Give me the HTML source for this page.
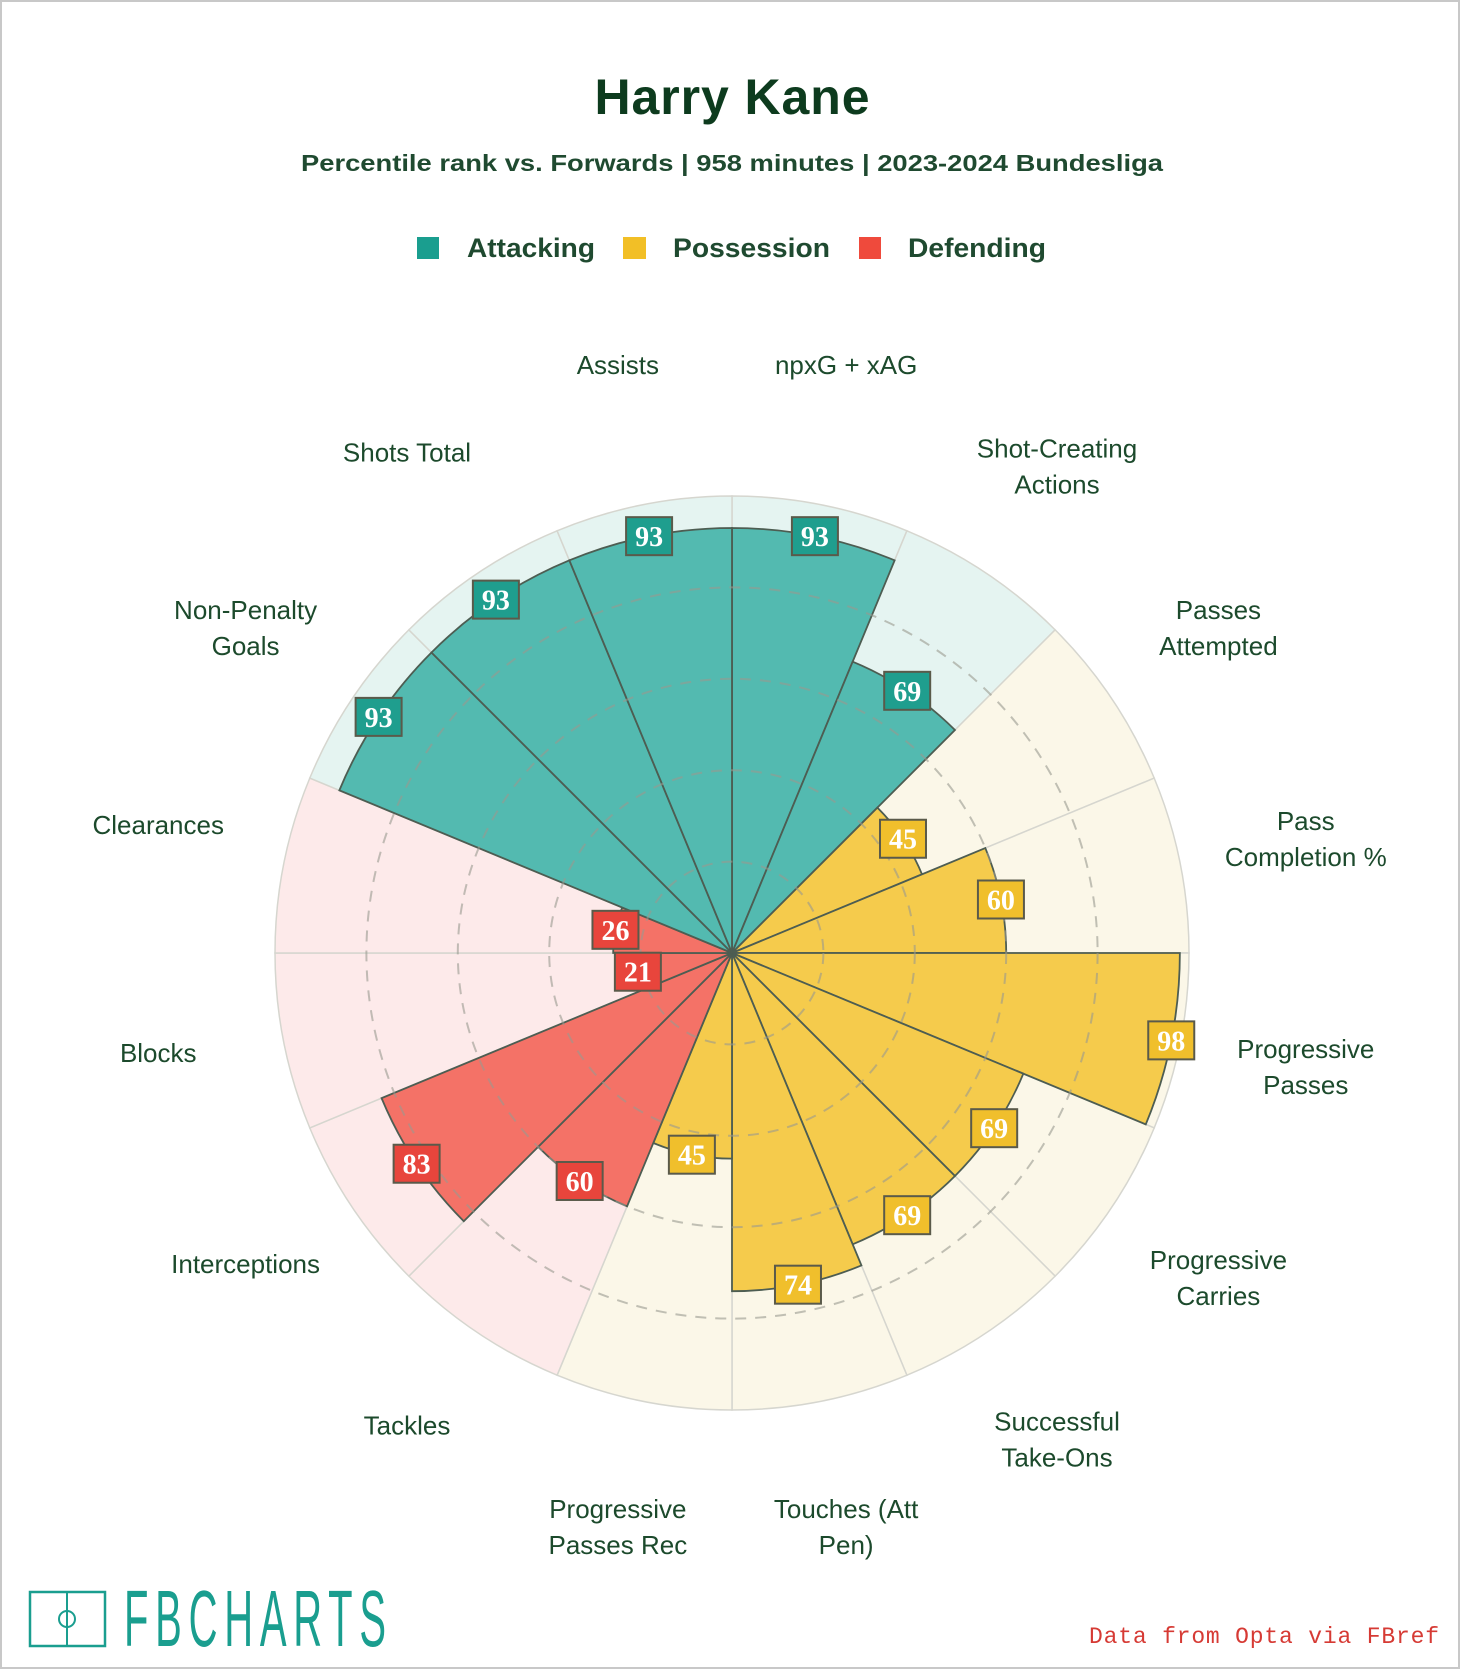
<!DOCTYPE html>
<html><head><meta charset="utf-8"><style>
html,body{margin:0;padding:0;background:#fff;}
#wrap{position:relative;width:1460px;height:1669px;box-sizing:border-box;border:2px solid #c8c8c8;background:#fff;overflow:hidden;}
svg{position:absolute;left:0;top:0;}
</style></head><body>
<div id="wrap">
<svg id="chart" width="1460" height="1669" viewBox="0 0 1460 1669">
<text x="730" y="112" text-anchor="middle" font-family="Liberation Sans, sans-serif" font-weight="bold" font-size="50" fill="#0d3b1e" textLength="275">Harry Kane</text>
<text x="730" y="169" text-anchor="middle" font-family="Liberation Sans, sans-serif" font-weight="bold" font-size="23" fill="#1f4a30" textLength="862" lengthAdjust="spacingAndGlyphs">Percentile rank vs. Forwards | 958 minutes | 2023-2024 Bundesliga</text>
<g>
<rect x="415" y="235" width="22" height="22" fill="#1a9e8f"/>
<text x="465" y="255" font-family="Liberation Sans, sans-serif" font-weight="bold" font-size="27" fill="#1f4a30" textLength="128" lengthAdjust="spacingAndGlyphs">Attacking</text>
<rect x="621" y="235" width="23" height="22" fill="#f2bf26"/>
<text x="671" y="255" font-family="Liberation Sans, sans-serif" font-weight="bold" font-size="27" fill="#1f4a30" textLength="157" lengthAdjust="spacingAndGlyphs">Possession</text>
<rect x="857" y="235" width="22" height="22" fill="#ef4a3c"/>
<text x="906" y="255" font-family="Liberation Sans, sans-serif" font-weight="bold" font-size="27" fill="#1f4a30" textLength="138" lengthAdjust="spacingAndGlyphs">Defending</text>
</g>
<g id="bg"></g>
<g id="bars"></g>
<g id="grid"></g>
<g id="vals"></g>
<g id="labs"></g>
<g>
<rect x="28" y="1590" width="75" height="54" fill="none" stroke="#1a9e8f" stroke-width="2.5"/>
<line x1="65" y1="1590" x2="65" y2="1644" stroke="#1a9e8f" stroke-width="2"/>
<circle cx="65" cy="1617" r="8" fill="none" stroke="#1a9e8f" stroke-width="2"/>
<g transform="translate(122 1644) scale(1 2)">
<text x="0" y="0" font-family="Liberation Sans, sans-serif" font-size="40" fill="#1a9e8f" textLength="262" lengthAdjust="spacing">FBCHARTS</text>
</g>
</g>
<text x="1437" y="1641" text-anchor="end" font-family="Liberation Mono, monospace" font-size="23" fill="#d63a34" textLength="350">Data from Opta via FBref</text>
</svg>
</div>
<script>
const categories = ["npxG + xAG","Shot-Creating Actions","Passes Attempted","Pass Completion %","Progressive Passes","Progressive Carries","Successful Take-Ons","Touches (Att Pen)","Progressive Passes Rec","Tackles","Interceptions","Blocks","Clearances","Non-Penalty Goals","Shots Total","Assists"];
const labelLines = [["npxG + xAG"],["Shot-Creating","Actions"],["Passes","Attempted"],["Pass","Completion %"],["Progressive","Passes"],["Progressive","Carries"],["Successful","Take-Ons"],["Touches (Att","Pen)"],["Progressive","Passes Rec"],["Tackles"],["Interceptions"],["Blocks"],["Clearances"],["Non-Penalty","Goals"],["Shots Total"],["Assists"]];
const values = [93,69,45,60,98,69,69,74,45,60,83,21,26,93,93,93];
const groups = ["att","att","pos","pos","pos","pos","pos","pos","pos","def","def","def","def","att","att","att"];
const gridTicks = [20,40,60,80];

const NS="http://www.w3.org/2000/svg";
const CX=730, CY=951, R=457, LR=585;
const colors={att:{bg:"#e5f4f1",bar:"#4bb6ac",box:"#1f9e8e"},pos:{bg:"#fbf7e8",bar:"#f4c843",box:"#f0bf2c"},def:{bg:"#fdeaea",bar:"#f36b60",box:"#e8453c"}};
const n=categories.length, step=2*Math.PI/n;
function rScale(v){return R*v/100;}
function pt(a,r){return [CX+r*Math.sin(a), CY-r*Math.cos(a)];}
function sector(a0,a1,r){const p0=pt(a0,r),p1=pt(a1,r);return `M${CX},${CY}L${p0[0]},${p0[1]}A${r},${r} 0 0 1 ${p1[0]},${p1[1]}Z`;}
function mk(tag,attrs,parent){const e=document.createElementNS(NS,tag);for(const k in attrs)e.setAttribute(k,attrs[k]);parent.appendChild(e);return e;}
const bg=document.getElementById('bg'),bars=document.getElementById('bars'),grid=document.getElementById('grid'),vals=document.getElementById('vals'),labs=document.getElementById('labs');
for(let i=0;i<n;i++){
  const a0=i*step,a1=(i+1)*step,c=colors[groups[i]];
  const b=mk('path',{d:sector(a0,a1,R),fill:c.bg,stroke:"#d6d6cf","stroke-width":1.5},bg);
  
  
}
gridTicks.forEach(t=>{
  const g=mk('circle',{cx:CX,cy:CY,r:rScale(t),fill:"none",stroke:"#9a9a90","stroke-width":2,"stroke-dasharray":"11 9",opacity:0.6},grid);
  
  
});
for(let i=0;i<n;i++){
  const a0=i*step,a1=(i+1)*step,c=colors[groups[i]];
  const p=mk('path',{d:sector(a0,a1,rScale(values[i])),fill:c.bar,stroke:"#4d5d52","stroke-width":1.8,"fill-opacity":0.95},bars);
  
  
}
for(let i=0;i<n;i++){
  const am=(i+0.5)*step,c=colors[groups[i]];
  const [x,y]=pt(am,rScale(values[i]));
  const g=mk('g',{},vals);
  
  
  mk('rect',{x:x-23,y:y-19,width:46,height:38,fill:c.box,stroke:"#5a5a4a","stroke-width":2},g);
  const t=mk('text',{x:x,y:y+10,"text-anchor":"middle","font-family":"Liberation Serif, serif","font-weight":"bold","font-size":28,fill:"#fff"},g);
  t.textContent=values[i];
}
for(let i=0;i<n;i++){
  const am=(i+0.5)*step;
  const [x,y]=pt(am,LR);
  const lines=labelLines[i];
  const t=mk('text',{"text-anchor":"middle","font-family":"Liberation Sans, sans-serif","font-size":26,fill:"#1c4a2c"},labs);
  
  
  const y0 = lines.length>1 ? y-18+9 : y-5;
  lines.forEach((l,k)=>{const s=mk('tspan',{x:x,y:y0+k*36},t);s.textContent=l;});
}
</script>
</body></html>
